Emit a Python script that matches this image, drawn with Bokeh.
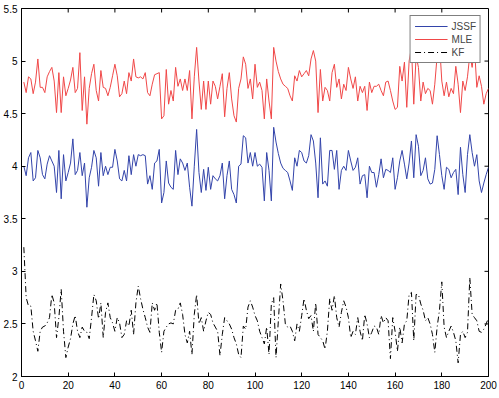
from bokeh.plotting import figure
from bokeh.models import Range1d, FixedTicker, NumeralTickFormatter, Legend, LegendItem
from bokeh.embed import file_html
from bokeh.resources import INLINE

jssf = [4.00,3.91,4.08,4.13,3.86,3.89,4.15,4.08,3.92,3.88,
        4.02,4.10,4.05,4.00,3.75,4.15,3.69,4.11,3.86,3.94,
        4.03,4.26,3.92,3.96,4.13,3.91,4.03,3.61,3.89,3.99,
        4.15,4.08,3.81,4.13,3.91,4.00,3.92,3.99,3.99,4.16,
        4.05,3.88,3.86,3.96,3.86,4.10,3.92,4.11,4.00,4.11,
        4.10,4.11,4.10,3.83,3.91,3.78,4.03,4.05,4.16,3.65,
        3.75,4.05,3.84,
        3.80,3.78,4.15,3.92,4.07,4.03,3.96,4.03,3.80,3.62,
        4.00,4.35,3.94,3.75,3.97,3.77,3.99,3.78,3.91,3.88,
        3.86,3.91,4.03,3.69,3.91,4.05,3.78,3.73,3.65,4.00,
        4.02,4.29,4.27,4.03,4.13,4.00,4.13,4.00,4.02,3.99,
        3.67,4.13,3.96,3.67,4.37,4.23,4.12,4.03,3.98,3.96,
        3.94,3.86,3.77,4.08,4.00,4.15,4.13,4.05,4.03,4.10,
        4.30,4.24,4.03,3.70,4.27,3.83,3.86,3.81,4.15,
        4.15,3.97,4.15,3.78,3.96,4.00,3.96,4.15,4.05,3.96,
        3.99,4.08,3.83,3.91,3.92,3.70,4.00,3.94,3.94,3.80,
        3.92,4.07,3.89,3.97,3.96,3.94,4.08,3.78,3.89,4.05,
        4.15,4.02,3.88,4.03,4.24,3.89,4.30,4.19,3.91,3.96,
        4.08,3.88,3.83,3.84,3.97,4.29,4.11,3.91,3.78,3.99,
        3.97,3.89,3.94,3.97,3.73,4.18,3.92,3.75,4.11,4.30,
        4.13,4.00,4.11,3.86,3.75,3.84,3.92,3.99]

mle = [4.80,4.70,4.85,4.83,4.69,4.80,5.02,4.75,4.75,4.70,
       4.85,4.90,4.94,4.81,4.51,4.89,4.51,4.85,4.67,4.74,
       4.82,4.94,4.70,4.74,5.08,4.53,4.85,4.40,4.74,4.88,
       4.97,4.72,4.62,4.91,4.75,4.74,4.67,4.75,4.86,4.97,
       4.86,4.66,4.69,4.81,4.69,4.89,4.81,5.02,4.85,4.84,
       4.85,4.83,4.89,4.70,4.67,4.78,4.87,4.88,4.89,4.45,
       4.48,4.92,4.59,
       4.72,4.62,4.94,4.76,4.83,4.72,4.83,4.72,4.91,4.45,
       4.85,5.13,4.81,4.54,4.81,4.54,4.81,4.59,4.81,4.76,
       4.64,4.76,4.88,4.47,4.74,4.89,4.64,4.48,4.42,4.74,
       4.83,5.04,4.97,4.74,4.83,4.64,4.97,4.75,4.80,4.72,
       4.45,4.83,4.62,4.45,5.13,5.00,4.90,4.83,4.78,4.76,
       4.74,4.67,4.62,4.86,4.81,4.91,4.85,4.88,4.91,4.86,
       5.02,5.10,5.00,4.51,4.92,4.62,4.75,4.72,4.62,
       4.89,4.97,4.75,4.83,4.64,4.78,4.72,4.94,4.83,4.74,
       4.85,4.62,4.76,4.70,4.76,4.53,4.80,4.70,4.76,4.76,
       4.78,4.72,4.67,4.80,4.81,4.72,4.62,4.54,4.56,4.95,
       4.81,4.99,4.56,5.00,5.13,4.59,5.05,4.94,4.62,4.80,
       4.69,4.74,4.72,4.59,4.78,5.05,5.18,4.81,4.67,4.80,
       4.66,4.74,4.69,4.95,4.78,4.51,4.81,4.72,4.85,5.06,
       4.94,5.13,4.75,4.86,4.76,4.59,4.69,4.74]

kf = [3.23,2.75,2.67,2.67,2.43,2.34,2.24,2.43,2.47,2.48,
      2.51,2.56,2.78,2.70,2.37,2.56,2.83,2.43,2.18,2.28,
      2.36,2.50,2.58,2.43,2.37,2.47,2.43,2.42,2.36,2.56,
      2.78,2.72,2.55,2.70,2.37,2.61,2.70,2.56,2.51,2.43,
      2.56,2.51,2.37,2.40,2.53,2.48,2.63,2.40,2.70,2.86,
      2.74,2.64,2.56,2.47,2.42,2.70,2.63,2.70,2.42,2.23,
      2.43,2.47,2.50,
      2.51,2.50,2.63,2.64,2.70,2.59,2.40,2.32,2.43,2.21,
      2.59,2.78,2.50,2.56,2.43,2.53,2.61,2.59,2.51,2.47,
      2.43,2.20,2.40,2.56,2.53,2.50,2.45,2.37,2.31,2.21,
      2.18,2.48,2.45,2.66,2.72,2.66,2.58,2.53,2.43,2.37,
      2.31,2.47,2.21,2.69,2.75,2.18,2.53,2.88,2.72,2.50,
      2.47,2.48,2.43,2.34,2.50,2.43,2.58,2.74,2.63,2.55,
      2.58,2.43,2.70,2.40,2.37,2.34,2.26,2.43,2.74,
      2.63,2.77,2.56,2.47,2.61,2.72,2.66,2.56,2.37,2.43,
      2.40,2.56,2.43,2.34,2.59,2.50,2.37,2.42,2.48,2.47,
      2.40,2.58,2.51,2.56,2.53,2.17,2.56,2.43,2.24,2.47,
      2.32,2.50,2.53,2.78,2.80,2.34,2.78,2.78,2.69,2.63,
      2.53,2.56,2.50,2.40,2.23,2.47,2.63,2.90,2.47,2.37,
      2.43,2.48,2.42,2.34,2.13,2.40,2.43,2.37,2.42,2.94,
      2.59,2.56,2.53,2.43,2.42,2.45,2.50,2.56]

x_ticks = [0, 20, 40, 60, 80, 100, 120, 140, 160, 180, 200]
y_ticks = [2, 2.5, 3, 3.5, 4, 4.5, 5, 5.5]

FONT = "Liberation Sans"
X0, X1 = 0, 200
Y0, Y1 = 2, 5.5
W, H = 499, 398
BL, BR, BT, BB = 20, 11, 8, 22
TICK_PX = 4

p = figure(width=W, height=H, output_backend="svg", toolbar_location=None,
           x_range=Range1d(X0, X1), y_range=Range1d(Y0, Y1),
           min_border_left=BL, min_border_right=BR, min_border_top=BT, min_border_bottom=BB,
           background_fill_color="white", border_fill_color="white")
p.xgrid.visible = False
p.ygrid.visible = False
p.outline_line_color = "black"
p.outline_line_alpha = 1.0

def style_axis(ax, ticks):
    ax.ticker = FixedTicker(ticks=ticks)
    ax.formatter = NumeralTickFormatter(format="0.[0]")
    ax.major_tick_in = TICK_PX
    ax.major_tick_out = 0
    ax.minor_tick_line_color = None
    ax.axis_line_color = "black"
    ax.major_tick_line_color = "black"
    ax.major_label_text_font = FONT
    ax.major_label_text_color = "black"
    ax.major_label_text_font_size = "10px"
    ax.major_label_standoff = 4

style_axis(p.xaxis[0], x_ticks)
style_axis(p.yaxis[0], y_ticks)

# MATLAB-style inward ticks on top and right edges of the box
frame_w = W - BL - BR
frame_h = H - BT - BB
dy = (Y1 - Y0) * TICK_PX / frame_h
dx = (X1 - X0) * TICK_PX / frame_w
top_t = [t for t in x_ticks if X0 < t < X1]
right_t = [t for t in y_ticks if Y0 < t < Y1]
p.segment(x0=top_t, x1=top_t, y0=[Y1] * len(top_t), y1=[Y1 - dy] * len(top_t),
          line_color="black", line_width=1)
p.segment(x0=[X1] * len(right_t), x1=[X1 - dx] * len(right_t), y0=right_t, y1=right_t,
          line_color="black", line_width=1)

xs_j = list(range(1, len(jssf) + 1))
xs_m = list(range(1, len(mle) + 1))
xs_k = list(range(1, len(kf) + 1))

r1 = p.line(xs_j, jssf, line_color="#3344aa", line_width=1)
r2 = p.line(xs_m, mle, line_color="#f04848", line_width=1)
r3 = p.line(xs_k, kf, line_color="black", line_width=1, line_dash="6 3 1 3")

legend = Legend(items=[LegendItem(label="JSSF", renderers=[r1]),
                       LegendItem(label="MLE", renderers=[r2]),
                       LegendItem(label="KF", renderers=[r3])],
                location="top_right")
legend.border_line_color = "black"
legend.border_line_width = 1
legend.background_fill_color = "white"
legend.background_fill_alpha = 1.0
legend.label_text_font = FONT
legend.label_text_font_size = "10px"
legend.label_height = 12
legend.glyph_height = 12
legend.glyph_width = 33
legend.label_standoff = 4
legend.spacing = 1
legend.padding = 4
legend.margin = 7
p.add_layout(legend)

open("out.html", "w").write(file_html(p, INLINE))
